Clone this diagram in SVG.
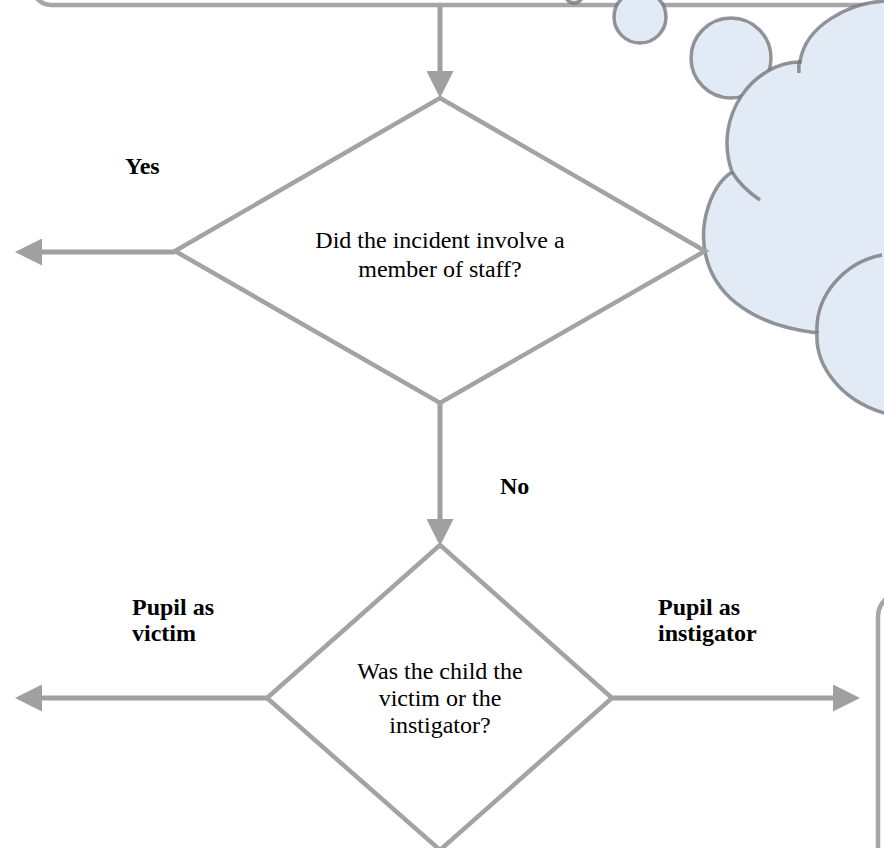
<svg xmlns="http://www.w3.org/2000/svg" width="884" height="848" viewBox="0 0 884 848">
<defs>
<style>
.box{fill:#ffffff;stroke:#a6a6a6;stroke-width:4.5}
.dia{fill:none;stroke:#a3a3a3;stroke-width:4.5;stroke-linejoin:miter}
.con{fill:none;stroke:#a0a0a0;stroke-width:5}
.cl{fill:#e2eaf5;stroke:#6f7275;stroke-opacity:0.75;stroke-width:3.5}
.cls{fill:none;stroke:#6f7275;stroke-opacity:0.75;stroke-width:3.5}
.t{font-family:"Liberation Serif","Times New Roman",serif;font-size:24px;fill:#000000}
.b{font-weight:bold}
</style>
<marker id="ah" markerUnits="userSpaceOnUse" markerWidth="27" markerHeight="27" refX="0" refY="13.5" orient="auto">
<path d="M0,0 L27,13.5 L0,27 Z" fill="#a0a0a0"/>
</marker>
</defs>
<rect width="884" height="848" fill="#ffffff"/>

<g id="top-box">
<rect class="box" x="33" y="-60" width="900" height="65" rx="18"/>
</g>

<g id="bottom-right-box">
<rect class="box" x="878" y="592" width="100" height="320" rx="25"/>
</g>

<g id="thought-cloud">
<circle class="cl" cx="574" cy="-6" r="9"/>
<circle class="cl" cx="640" cy="17" r="26"/>
<circle class="cl" cx="731" cy="58" r="40"/>
<path class="cl" d="M884,1 C850,3 805,25 800,62 C755,62 712,115 732,172 C695,195 670,315 817,333 C815,365 840,400 884,413 L900,413 L900,0 Z"/>
<path class="cls" d="M800,60 Q798,66 799,73"/>
<path class="cls" d="M732,172 Q742,188 760,200"/>
<path class="cls" d="M817,333 C815,295 845,262 882,255"/>
</g>

<g id="connectors">
<line class="con" x1="440" y1="5" x2="440" y2="71" marker-end="url(#ah)"/>
<line class="con" x1="175" y1="252" x2="42" y2="252" marker-end="url(#ah)"/>
<line class="con" x1="440" y1="403" x2="440" y2="519" marker-end="url(#ah)"/>
<line class="con" x1="267" y1="698" x2="42" y2="698" marker-end="url(#ah)"/>
<line class="con" x1="612" y1="698" x2="833" y2="698" marker-end="url(#ah)"/>
</g>

<g id="decision-staff">
<polygon class="dia" points="440,98 705,251 440,403 175,251"/>
<text class="t" x="440" y="248" text-anchor="middle">Did the incident involve a</text>
<text class="t" x="440" y="277" text-anchor="middle">member of staff?</text>
</g>

<g id="decision-child">
<polygon class="dia" points="440,545 612,698 440,850 267,698"/>
<text class="t" x="440" y="679" text-anchor="middle">Was the child the</text>
<text class="t" x="440" y="706" text-anchor="middle">victim or the</text>
<text class="t" x="440" y="733" text-anchor="middle">instigator?</text>
</g>

<g id="labels">
<text class="t b" x="125" y="174">Yes</text>
<text class="t b" x="500" y="494">No</text>
<text class="t b" x="132" y="615">Pupil as</text>
<text class="t b" x="132" y="641">victim</text>
<text class="t b" x="658" y="615">Pupil as</text>
<text class="t b" x="658" y="641">instigator</text>
</g>
</svg>
